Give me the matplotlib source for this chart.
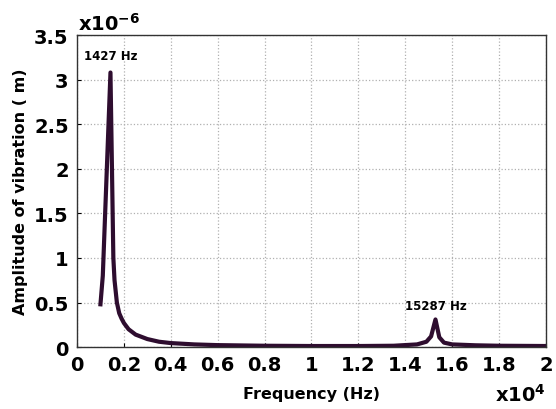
import numpy as np
import matplotlib.pyplot as plt

# frequency response (Hz) and amplitude (x1e-6 m)
freq = [1000, 1100, 1427, 1550, 1600, 1700, 1800, 1900, 2000, 2200, 2500, 3000,
        3500, 4000, 5000, 6000, 8000, 10000, 12000, 13500, 14500, 14900, 15100,
        15287, 15450, 15650, 16000, 17000, 18000, 20000]
amp = [0.48, 0.80, 3.08, 1.0, 0.75, 0.50, 0.38, 0.32, 0.27, 0.20, 0.14, 0.09,
       0.06, 0.045, 0.03, 0.022, 0.015, 0.012, 0.012, 0.015, 0.03, 0.06, 0.12,
       0.31, 0.11, 0.05, 0.03, 0.02, 0.015, 0.012]

xticks = [0, 0.2, 0.4, 0.6, 0.8, 1, 1.2, 1.4, 1.6, 1.8, 2]
yticks = [0, 0.5, 1, 1.5, 2, 2.5, 3, 3.5]

fig = plt.figure(figsize=(5.56, 4.10), dpi=100)
ax = fig.add_axes([0.1385, 0.151, 0.8435, 0.761])

x = np.array(freq) / 1e4
ax.plot(x, amp, color='#2e0d2f', lw=3, solid_joinstyle='round')

ax.set_xlim(0, 2)
ax.set_ylim(0, 3.5)
ax.set_xticks(xticks)
ax.set_xticklabels([f'{v:g}' for v in xticks])
ax.set_yticks(yticks)
ax.set_yticklabels([f'{v:g}' for v in yticks])
ax.tick_params(labelsize=14, length=3, direction='in', pad=6)
for lab in ax.get_xticklabels() + ax.get_yticklabels():
    lab.set_fontweight('bold')

ax.grid(True, ls=':', color='#b0b0b0', lw=0.9)
for s in ax.spines.values():
    s.set_color('#333333')
    s.set_linewidth(1.0)

ax.set_xlabel('Frequency (Hz)', fontsize=11.5, fontweight='bold', labelpad=8)
ax.set_ylabel('Amplitude of vibration ( m)', fontsize=11.5, fontweight='bold', labelpad=4)

ax.text(1427 / 1e4, 3.27, '1427 Hz', ha='center', va='center', fontsize=8.5, fontweight='bold')
ax.text(15287 / 1e4, 0.47, '15287 Hz', ha='center', va='center', fontsize=8.5, fontweight='bold')

fig.text(0.14, 0.915, r'x10$^{\mathbf{-6}}$', fontsize=14, fontweight='bold', ha='left', va='bottom')
fig.text(0.982, 0.01, r'x10$^{\mathbf{4}}$', fontsize=14, fontweight='bold', ha='right', va='bottom')

fig.savefig('out.png', dpi=100)
